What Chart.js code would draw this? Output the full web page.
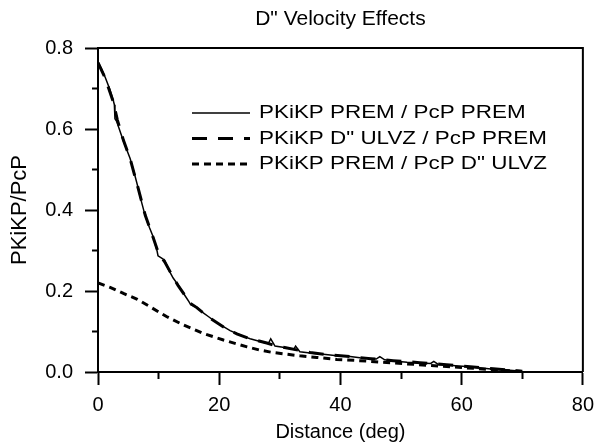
<!doctype html>
<html>
<head>
<meta charset="utf-8">
<title>D" Velocity Effects</title>
<script src="https://cdn.jsdelivr.net/npm/chart.js@4.4.1/dist/chart.umd.min.js"></script>
<style>
  html, body { margin: 0; padding: 0; background: #fff; }
</style>
</head>
<body>
<canvas id="velChart" width="602" height="444"></canvas>
<script>
// values (distance in deg, amplitude ratio)
const premDist  = [0, 0.6, 1.2, 1.9, 2.5, 2.7, 2.8, 3.1, 4.2, 5.3, 6.0, 6.6, 7.0, 7.8, 8.5, 9.1, 9.7, 9.9, 10.5, 11.0, 11.6, 12.4, 13.2, 14.2, 15.0, 15.3, 16.3, 17.2, 18.2, 19.4, 20.7, 21.8, 22.9, 24.0, 25.1, 26.6, 28.1, 28.5, 29.2, 30.5, 32.3, 32.6, 33.3, 35.0, 37.2, 39.4, 41.6, 43.2, 45.9, 46.5, 47.3, 48.7, 51.0, 53.1, 54.9, 55.4, 56.2, 57.5, 59.5, 61.4, 63.3, 65.2, 67.4, 70.0];
const premRatio = [0.766, 0.748, 0.727, 0.700, 0.672, 0.660, 0.625, 0.618, 0.570, 0.527, 0.490, 0.456, 0.430, 0.385, 0.356, 0.334, 0.302, 0.287, 0.281, 0.276, 0.254, 0.232, 0.215, 0.192, 0.174, 0.166, 0.160, 0.148, 0.137, 0.124, 0.112, 0.102, 0.095, 0.088, 0.082, 0.076, 0.070, 0.082, 0.064, 0.061, 0.056, 0.064, 0.050, 0.047, 0.044, 0.040, 0.038, 0.035, 0.032, 0.038, 0.030, 0.027, 0.024, 0.022, 0.021, 0.026, 0.018, 0.017, 0.015, 0.013, 0.010, 0.007, 0.005, 0.002];

const ulvzPkikpDist  = [0, 1.2, 2.5, 3.2, 4.2, 5.3, 6.6, 7.8, 9.1, 10.0, 11.0, 12.4, 13.2, 15.2, 16.3, 18.2, 20.7, 22.9, 25.1, 28.0, 29.0, 31.0, 33.0, 35.0, 37.2, 41.6, 45.0, 48.7, 53.1, 57.5, 61.4, 65.2, 70.0];
const ulvzPkikpRatio = [0.764, 0.725, 0.668, 0.622, 0.572, 0.527, 0.455, 0.387, 0.332, 0.292, 0.272, 0.234, 0.214, 0.170, 0.159, 0.136, 0.111, 0.094, 0.082, 0.071, 0.066, 0.060, 0.054, 0.048, 0.044, 0.038, 0.033, 0.028, 0.023, 0.018, 0.013, 0.008, 0.002];

const ulvzPcpDist  = [0, 2.0, 4.2, 6.4, 8.6, 11.3, 14.1, 17.4, 20.7, 24.6, 26.7, 28.9, 31.1, 33.3, 36.1, 39.4, 43.2, 47.0, 51.0, 55.0, 60.0, 65.0, 70.0];
const ulvzPcpRatio = [0.220, 0.209, 0.194, 0.180, 0.161, 0.137, 0.116, 0.095, 0.079, 0.062, 0.054, 0.048, 0.044, 0.040, 0.036, 0.031, 0.028, 0.024, 0.020, 0.016, 0.011, 0.006, 0.001];

const seriesLabels = ['PKiKP PREM / PcP PREM', 'PKiKP D" ULVZ / PcP PREM', 'PKiKP PREM / PcP D" ULVZ'];
const xTickLabels = [0, 20, 40, 60, 80];
const yTickLabels = [0.0, 0.2, 0.4, 0.6, 0.8];

const FONT = 'Liberation Sans, Arial, Helvetica, sans-serif';

function pairs(xs, ys) {
  return xs.map((x, i) => ({x: x, y: ys[i]}));
}
function isLabelled(list, v) {
  return list.some(t => Math.abs(t - v) < 1e-6);
}

// top/right frame lines and the key inside the plot
const frameAndKey = {
  id: 'frameAndKey',
  afterDraw(chart) {
    const ctx = chart.ctx;
    const a = chart.chartArea;
    ctx.save();
    ctx.strokeStyle = '#000';
    ctx.lineWidth = 2;
    ctx.beginPath();
    ctx.moveTo(a.left, a.top);
    ctx.lineTo(a.right, a.top);
    ctx.lineTo(a.right, a.bottom);
    ctx.stroke();

    ctx.font = '19px ' + FONT;
    ctx.fillStyle = '#000';
    ctx.textBaseline = 'middle';
    chart.data.datasets.forEach((ds, i) => {
      const y = a.top + 65 + i * 25.5;
      const x0 = a.left + 94;
      ctx.lineWidth = ds.borderWidth;
      ctx.setLineDash(ds.borderDash || []);
      ctx.beginPath();
      ctx.moveTo(x0, y);
      ctx.lineTo(x0 + 58, y);
      ctx.stroke();
      ctx.setLineDash([]);
      // the original lettering is drawn wide
      ctx.save();
      ctx.translate(x0 + 67, y);
      ctx.scale(1.18, 1);
      ctx.fillText(ds.label, 0, 0);
      ctx.restore();
    });
    ctx.restore();
  }
};

new Chart(document.getElementById('velChart'), {
  type: 'line',
  data: {
    datasets: [{
      label: seriesLabels[0],
      data: pairs(premDist, premRatio),
      borderColor: '#000',
      borderWidth: 1.5,
      pointRadius: 0,
      tension: 0,
      fill: false
    }, {
      label: seriesLabels[1],
      data: pairs(ulvzPkikpDist, ulvzPkikpRatio),
      borderColor: '#000',
      borderWidth: 3,
      borderDash: [15, 11],
      pointRadius: 0,
      tension: 0,
      fill: false
    }, {
      label: seriesLabels[2],
      data: pairs(ulvzPcpDist, ulvzPcpRatio),
      borderColor: '#000',
      borderWidth: 3,
      borderDash: [7, 5],
      pointRadius: 0,
      tension: 0,
      fill: false
    }]
  },
  options: {
    responsive: false,
    animation: false,
    layout: {padding: {left: 0, right: 19, top: 0, bottom: 0}},
    plugins: {
      legend: {display: false},
      tooltip: {enabled: false},
      title: {
        display: true,
        text: 'D" Velocity Effects',
        color: '#000',
        fullSize: false,
        font: {family: FONT, size: 21, weight: 'normal', lineHeight: 1.2},
        padding: {top: 7, bottom: 15.8}
      }
    },
    scales: {
      x: {
        type: 'linear',
        min: 0,
        max: 80,
        afterFit: s => { s.height = 72; },
        ticks: {
          stepSize: 10,
          autoSkip: false,
          maxRotation: 0,
          padding: 8,
          color: '#000',
          font: {family: FONT, size: 20},
          callback: v => isLabelled(xTickLabels, v) ? String(v) : ''
        },
        grid: {
          drawOnChartArea: false,
          tickLength: 13,
          tickWidth: 2,
          tickColor: '#000',
          tickBorderDash: c => isLabelled(xTickLabels, c.tick.value) ? [] : [6, 20]
        },
        border: {display: true, color: '#000', width: 2},
        title: {
          display: true,
          text: 'Distance (deg)',
          color: '#000',
          font: {family: FONT, size: 20},
          padding: {top: 0, bottom: 0}
        }
      },
      y: {
        min: 0,
        max: 0.8,
        afterFit: s => { s.width = 98; },
        ticks: {
          stepSize: 0.1,
          autoSkip: false,
          padding: 12,
          color: '#000',
          font: {family: FONT, size: 20},
          callback: v => isLabelled(yTickLabels, v) ? v.toFixed(1) : ''
        },
        grid: {
          drawOnChartArea: false,
          tickLength: 13,
          tickWidth: 2,
          tickColor: '#000',
          tickBorderDash: c => isLabelled(yTickLabels, c.tick.value) ? [] : [0, 7, 7, 0]
        },
        border: {display: true, color: '#000', width: 2},
        title: {
          display: true,
          text: 'PKiKP/PcP',
          color: '#000',
          font: {family: FONT, size: 22},
          padding: {top: 7, bottom: 0}
        }
      }
    }
  },
  plugins: [frameAndKey]
});
</script>
</body>
</html>
